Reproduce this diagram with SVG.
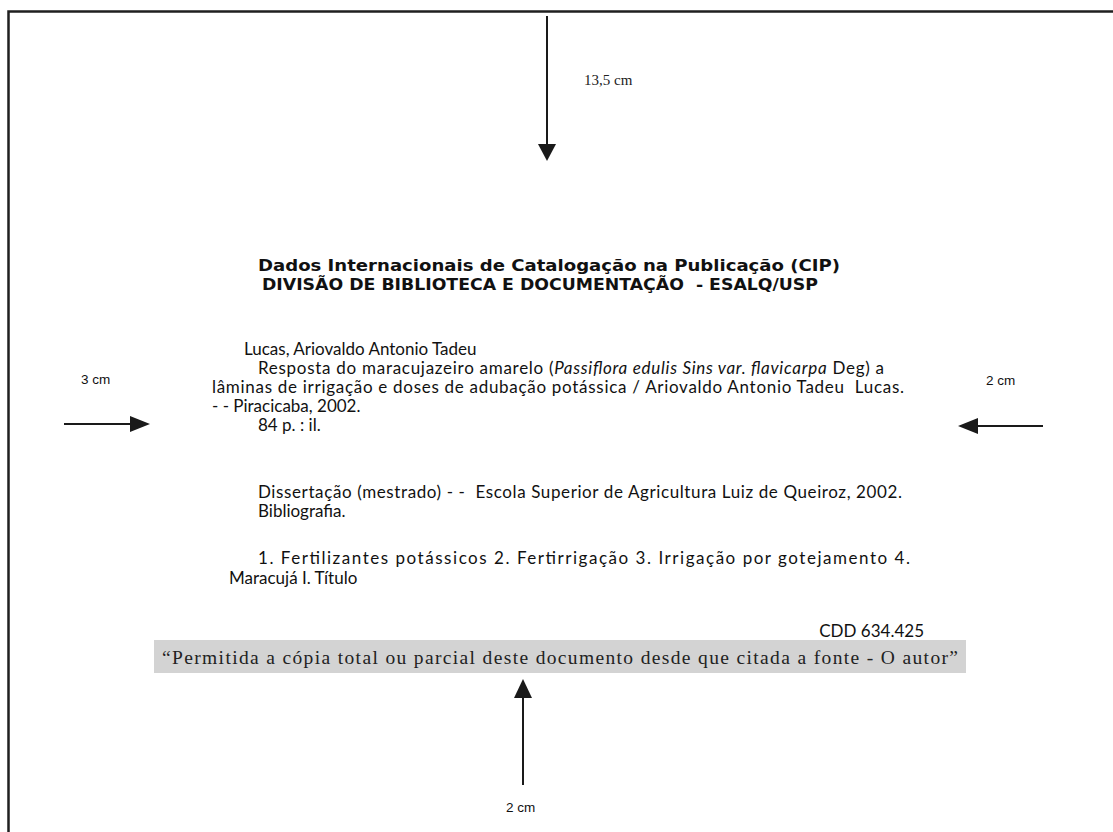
<svg xmlns="http://www.w3.org/2000/svg" width="1113" height="832" viewBox="0 0 1113 832">
<style>
.body{font-family:Lato,"Open Sans",sans-serif;font-size:17px;fill:#111}
.title{font-family:"DejaVu Sans",sans-serif;font-weight:bold;font-size:16px;fill:#111}
.dim{font-family:"Liberation Sans",Arial,sans-serif;font-size:13.5px;fill:#111}
.ser{font-family:"Liberation Serif","Times New Roman",serif;fill:#222}
.ln{stroke:#1a1a1a;stroke-width:2;fill:none}
</style>
<rect width="1113" height="832" fill="#fff"/>
<g id="frame">
<path d="M8.5,832 V11.5 H1113" stroke="#1f1f1f" stroke-width="2.5" fill="none"/>
</g>
<g id="connectors">
<line x1="547" y1="16" x2="547" y2="145" class="ln"/>
<path d="M538,144 L556,144 L547,161 Z" fill="#1a1a1a"/>
<line x1="64" y1="424" x2="131" y2="424" class="ln"/>
<path d="M130,416 L150,424 L130,432 Z" fill="#1a1a1a"/>
<line x1="1043" y1="426" x2="977" y2="426" class="ln"/>
<path d="M978,418 L958,426 L978,434 Z" fill="#1a1a1a"/>
<line x1="523" y1="785" x2="523" y2="696" class="ln"/>
<path d="M514,698 L532,698 L523,679 Z" fill="#1a1a1a"/>
</g>
<g id="dim-top"><text x="584" y="85" class="ser" font-size="15">13,5 cm</text></g>
<g id="dim-left"><text x="81" y="384" class="dim">3 cm</text></g>
<g id="dim-right"><text x="986" y="385" class="dim">2 cm</text></g>
<g id="dim-bottom"><text x="506" y="812" class="dim">2 cm</text></g>
<g id="header">
<text x="549" y="271" class="title" text-anchor="middle" textLength="582" lengthAdjust="spacingAndGlyphs">Dados Internacionais de Catalogação na Publicação (CIP)</text>
<text x="540" y="290" class="title" text-anchor="middle" textLength="556" lengthAdjust="spacingAndGlyphs" xml:space="preserve">DIVISÃO DE BIBLIOTECA E DOCUMENTAÇÃO  - ESALQ/USP</text>
</g>
<g id="record">
<text x="244" y="355" class="body">Lucas, Ariovaldo Antonio Tadeu</text>
<text x="258" y="374" class="body" textLength="626" lengthAdjust="spacing">Resposta do maracujazeiro amarelo (<tspan font-style="italic">Passiflora edulis Sins var. flavicarpa</tspan> Deg) a</text>
<text x="212" y="393" class="body" textLength="692" lengthAdjust="spacing" xml:space="preserve">lâminas de irrigação e doses de adubação potássica / Ariovaldo Antonio Tadeu  Lucas.</text>
<text x="212" y="412" class="body">- - Piracicaba, 2002.</text>
<text x="258" y="431" class="body">84 p. : il.</text>
<text x="258" y="498" class="body" textLength="644" lengthAdjust="spacing" xml:space="preserve">Dissertação (mestrado) - -  Escola Superior de Agricultura Luiz de Queiroz, 2002.</text>
<text x="258" y="517" class="body">Bibliografia.</text>
<text x="258" y="564" class="body" font-size="17.8" textLength="652" lengthAdjust="spacing">1. Fertilizantes potássicos 2. Fertirrigação 3. Irrigação por gotejamento 4.</text>
<text x="229" y="584" class="body">Maracujá I. Título</text>
<text x="924" y="637" class="body" text-anchor="end">CDD 634.425</text>
</g>
<g id="notice">
<rect x="154" y="640" width="812" height="33" fill="#d3d3d3"/>
<text x="162" y="664" class="ser" font-size="19.5" textLength="796" lengthAdjust="spacing">“Permitida a cópia total ou parcial deste documento desde que citada a fonte - O autor”</text>
</g>
</svg>
